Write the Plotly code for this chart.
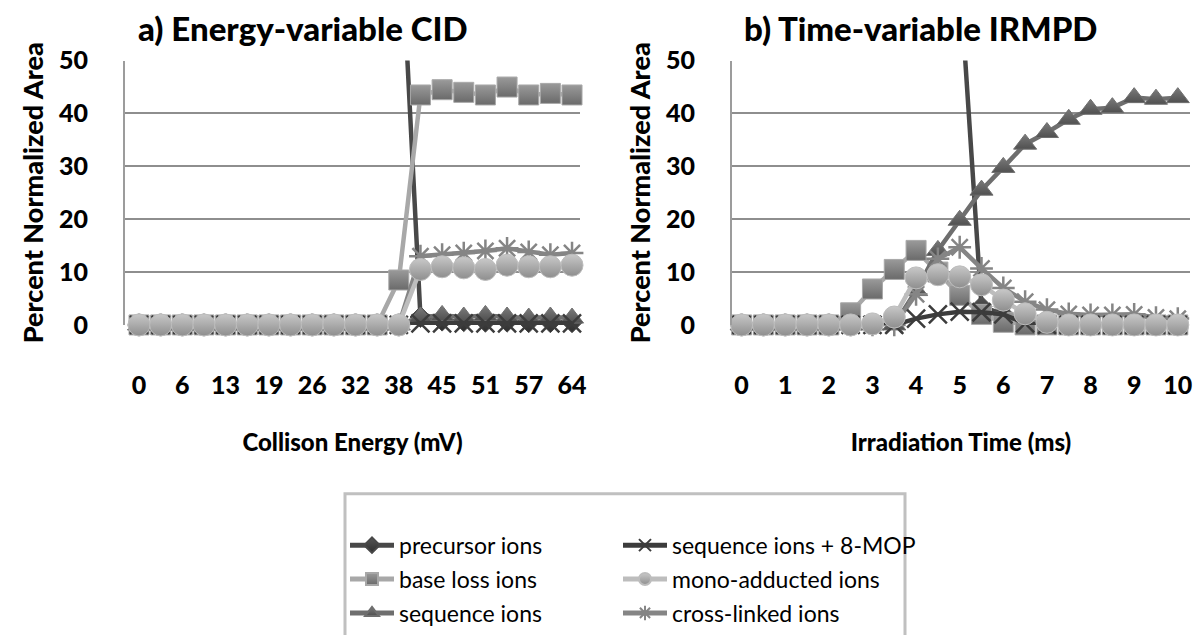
import plotly.graph_objects as go

W, H = 1201, 635

# ---------------- data ----------------
energy = [0, 3.2, 6.4, 9.6, 12.8, 16, 19.2, 22.4, 25.6, 28.8, 32, 35.2, 38.4,
          41.6, 44.8, 48, 51.2, 54.4, 57.6, 60.8, 64]
energy_tickvals = [0, 6.4, 12.8, 19.2, 25.6, 32, 38.4, 44.8, 51.2, 57.6, 64]
energy_ticktext = ["0", "6", "13", "19", "26", "32", "38", "45", "51", "57", "64"]

time_ms = [0, 0.5, 1, 1.5, 2, 2.5, 3, 3.5, 4, 4.5, 5, 5.5, 6, 6.5, 7, 7.5, 8,
           8.5, 9, 9.5, 10]
time_tickvals = [0, 1, 2, 3, 4, 5, 6, 7, 8, 9, 10]
time_ticktext = ["0", "1", "2", "3", "4", "5", "6", "7", "8", "9", "10"]

# a) Energy-variable CID
cid_precursor = [100, 100, 100, 100, 99.5, 99.5, 99.5, 99.5, 99, 99, 98.5, 96, 82,
                 1.5, 0.8, 0.7, 0.6, 0.6, 0.5, 0.5, 0.5]
cid_base_loss = [0, 0, 0, 0, 0, 0, 0, 0, 0, 0, 0, 0, 8.5,
                 43.5, 44.5, 44, 43.5, 45, 43.5, 43.8, 43.5]
cid_sequence = [0, 0, 0, 0, 0, 0, 0, 0, 0, 0, 0, 0, 0,
                1.5, 1.8, 1.5, 1.8, 1.5, 1.3, 1.5, 1.3]
cid_seq_mop = [0, 0, 0, 0, 0, 0, 0, 0, 0, 0, 0, 0, 0,
               0.3, 0.3, 0.3, 0.3, 0.3, 0.3, 0.3, 0.3]
cid_mono = [0, 0, 0, 0, 0, 0, 0, 0, 0, 0, 0, 0, 0,
            10.5, 11, 10.8, 10.5, 11.3, 11, 11, 11.3]
cid_cross = [0, 0, 0, 0, 0, 0, 0, 0, 0, 0, 0, 0, 0,
             13, 13.3, 13.6, 14, 14.5, 13.8, 13.3, 13.6]

# b) Time-variable IRMPD
ir_precursor = [100, 100, 100, 100, 100, 99, 98, 96, 90, 80, 66,
                3.5, 2, 1, 0.5, 0, 0, 0, 0, 0, 0]
ir_base_loss = [0, 0, 0, 0, 0, 2.3, 6.8, 10.5, 14.1, 10, 5.6,
                2, 0.5, 0, 0, 0, 0, 0, 0, 0, 0]
ir_sequence = [0, 0, 0, 0, 0, 0, 0, 0, 6.5, 14.1, 19.8,
               25.5, 29.8, 34.2, 36.4, 38.9, 40.8, 41.1, 43.0, 42.7, 43.0]
ir_seq_mop = [0, 0, 0, 0, 0, 0, 0, 0, 1.2, 2.0, 2.5,
              2.4, 2.0, 0.3, 0, 0, 0, 0, 0, 0, 0]
ir_mono = [0, 0, 0, 0, 0, 0, 0.2, 1.5, 8.9, 9.5, 9.1,
           7.6, 4.7, 2.1, 0.5, 0, 0, 0, 0, 0, 0]
ir_cross = [0, 0, 0, 0, 0, 0, 0, 0, 5.8, 12.5, 14.7,
            10.7, 7.0, 4.4, 2.9, 2.1, 1.9, 1.9, 2.0, 1.4, 1.2]

series_names = ["precursor ions", "base loss ions", "sequence ions",
                "sequence ions + 8-MOP", "mono-adducted ions", "cross-linked ions"]

# ---------------- styles ----------------
styles = {
    "precursor ions": dict(line="#484848", fill="#555555", grad="#2e2e2e",
                           symbol="diamond", size=16, legend="legend", rank=1),
    "base loss ions": dict(line="#a8a8a8", fill="#9a9a9a", grad="#6a6a6a",
                           symbol="square", size=20, legend="legend", rank=2),
    "sequence ions": dict(line="#6e6e6e", fill="#7a7a7a", grad="#505050",
                          symbol="triangle-up", size=20, legend="legend", rank=3),
    "sequence ions + 8-MOP": dict(line="#3c3c3c", fill="#3c3c3c", grad=None,
                                  symbol="x-thin", size=18, legend="legend2", rank=1),
    "mono-adducted ions": dict(line="#bdbdbd", fill="#c8c8c8", grad="#8e8e8e",
                               symbol="circle", size=22, legend="legend2", rank=2),
    "cross-linked ions": dict(line="#858585", fill="#858585", grad=None,
                              symbol="asterisk", size=19, legend="legend2", rank=3),
}

draw_order = ["precursor ions", "base loss ions", "sequence ions",
              "cross-linked ions", "sequence ions + 8-MOP", "mono-adducted ions"]

cid = dict(zip(series_names, [cid_precursor, cid_base_loss, cid_sequence,
                              cid_seq_mop, cid_mono, cid_cross]))
irm = dict(zip(series_names, [ir_precursor, ir_base_loss, ir_sequence,
                              ir_seq_mop, ir_mono, ir_cross]))

fig = go.Figure()


def add_series(name, x, y, xa, ya, show):
    s = styles[name]
    if s["symbol"] in ("x-thin", "asterisk"):
        marker = dict(symbol=s["symbol"], size=s["size"],
                      line=dict(color=s["line"], width=2.5), color=s["line"])
    else:
        marker = dict(symbol=s["symbol"], size=s["size"], color=s["fill"],
                      gradient=dict(type="vertical", color=s["grad"]),
                      line=dict(color=s["line"], width=1))
    fig.add_trace(go.Scatter(
        x=x, y=y, xaxis=xa, yaxis=ya, mode="lines+markers", name=name,
        line=dict(color=s["line"], width=4.5), marker=marker,
        cliponaxis=False, showlegend=show, legend=s["legend"],
        legendgroup=name, legendrank=s["rank"],
    ))


for n in draw_order:
    add_series(n, energy, cid[n], "x", "y", True)
for n in draw_order:
    add_series(n, time_ms, irm[n], "x2", "y2", False)

# ---------------- layout ----------------
def px_x(p):
    return p / W


def px_y(p):
    return 1 - p / H


tick_font = dict(family="Lato", size=25, color="#000000", weight=900)
title_font_x = dict(family="Lato", size=24, color="#000000", weight=900)
title_font_y = dict(family="Lato", size=27, color="#000000", weight=900)

common_y = dict(range=[0, 50], dtick=10, showgrid=True, gridcolor="#8e8e8e",
                gridwidth=2, showline=True, linecolor="#9c9c9c", linewidth=2,
                zeroline=False, ticks="", tickfont=tick_font,
                ticklabelstandoff=30, automargin=False,
                title=dict(text="Percent Normalized Area", font=title_font_y,
                           standoff=8),
                domain=[px_y(327), px_y(61)])
common_x = dict(showgrid=False, showline=False, zeroline=False, ticks="",
                tickfont=tick_font, ticklabelstandoff=43, automargin=False)

legend_common = dict(orientation="v", yanchor="top", xanchor="left",
                     font=dict(family="Lato", size=23, color="#000000"),
                     itemsizing="constant", itemwidth=44,
                     traceorder="grouped", tracegroupgap=1,
                     bgcolor="rgba(0,0,0,0)", borderwidth=0)

fig.update_layout(
    width=W, height=H, margin=dict(l=0, r=0, t=0, b=0),
    paper_bgcolor="white", plot_bgcolor="white",
    xaxis=dict(common_x, domain=[px_x(125), px_x(580)], range=[-2.07, 65.18],
               tickvals=energy_tickvals, ticktext=energy_ticktext,
               title=dict(text="Collison Energy (mV)", font=title_font_x,
                          standoff=36), anchor="y"),
    yaxis=dict(common_y, anchor="x"),
    xaxis2=dict(common_x, domain=[px_x(732), px_x(1190)], range=[-0.22, 10.28],
                tickvals=time_tickvals, ticktext=time_ticktext,
                title=dict(text="Irradiation Time (ms)", font=title_font_x,
                           standoff=36), anchor="y2"),
    yaxis2=dict(common_y, anchor="x2"),
    showlegend=True,
    legend=dict(legend_common, x=px_x(345), y=px_y(527)),
    legend2=dict(legend_common, x=px_x(618), y=px_y(527)),
    annotations=[
        dict(text="a) Energy-variable CID", x=px_x(303), y=px_y(28),
             xref="paper", yref="paper", showarrow=False,
             xanchor="center", yanchor="middle",
             font=dict(family="Lato", size=33, color="#000000", weight=900)),
        dict(text="b) Time-variable IRMPD", x=px_x(920), y=px_y(28),
             xref="paper", yref="paper", showarrow=False,
             xanchor="center", yanchor="middle",
             font=dict(family="Lato", size=33, color="#000000", weight=900)),
    ],
    shapes=[dict(type="rect", xref="paper", yref="paper",
                 x0=px_x(345), x1=px_x(905), y0=-0.05, y1=px_y(497),
                 line=dict(color="#c0c0c0", width=3), fillcolor="rgba(0,0,0,0)",
                 layer="below")],
)

fig.write_html("out.html", config={"displayModeBar": False},
               post_script="document.body.style.margin='0';"
                           "document.body.style.overflow='hidden';")
